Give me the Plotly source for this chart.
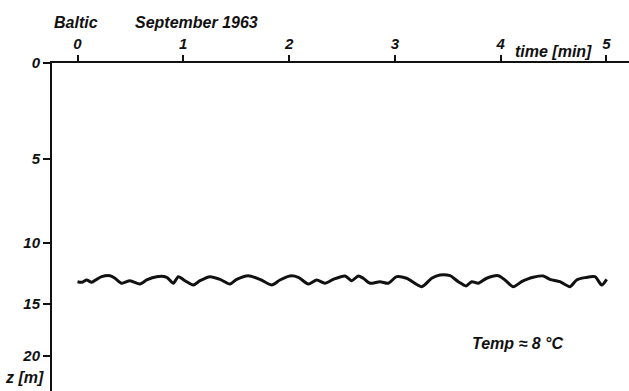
import numpy as np
import plotly.graph_objects as go

# Echo-sounder record, Baltic, September 1963
time_min = [0.00, 0.04, 0.087, 0.134, 0.181, 0.229, 0.307, 0.354, 0.418, 0.496,
            0.591, 0.654, 0.749, 0.843, 0.905, 0.953, 1.016, 1.094, 1.158, 1.252,
            1.347, 1.441, 1.505, 1.614, 1.725, 1.835, 1.914, 2.008, 2.087, 2.181,
            2.261, 2.339, 2.418, 2.528, 2.592, 2.654, 2.701, 2.765, 2.859, 2.938,
            3.017, 3.111, 3.253, 3.348, 3.426, 3.521, 3.599, 3.672, 3.726, 3.788,
            3.868, 3.977, 4.041, 4.119, 4.198, 4.246, 4.308, 4.403, 4.466, 4.560,
            4.655, 4.718, 4.797, 4.891, 4.955, 5.002]
depth_m = [13.17, 13.22, 13.03, 13.22, 12.98, 12.76, 12.68, 12.89, 13.30, 13.09,
           13.36, 13.03, 12.76, 12.81, 13.30, 12.76, 13.09, 13.44, 13.09, 12.76,
           12.98, 13.36, 12.98, 12.68, 12.98, 13.44, 13.03, 12.70, 12.81, 13.36,
           13.03, 13.30, 12.98, 12.70, 13.09, 12.70, 12.89, 13.30, 13.17, 13.30,
           12.76, 12.89, 13.58, 12.89, 12.62, 12.68, 13.17, 13.52, 13.17, 13.30,
           12.89, 12.68, 13.03, 13.58, 13.17, 12.98, 12.81, 12.70, 12.98, 13.17,
           13.58, 13.03, 12.84, 12.76, 13.44, 12.98]

time_ticks = [0, 1, 2, 3, 4, 5]
depth_ticks = [0, 5, 10, 15, 20]
depth_ticktext = ["0", "5", "10", "15", "20"]

# The recorder's depth scale is not linear: tick spacing shrinks with depth.
# Axis units along the scale for each labelled depth.
depth_scale = [0, 96, 180, 241, 293]


def depth_to_axis(d):
    d = np.asarray(d, dtype=float)
    return np.interp(d, depth_ticks, depth_scale)


INK = "#111111"
FONT = dict(family="Liberation Sans", size=16, color=INK,
            weight="bold", style="italic")
TICKFONT = dict(FONT, size=15)

fig = go.Figure()
fig.add_trace(go.Scatter(
    x=time_min,
    y=depth_to_axis(depth_m),
    mode="lines",
    line=dict(color=INK, width=3, shape="spline", smoothing=0.7),
    hoverinfo="skip",
    showlegend=False,
))

fig.update_layout(
    width=629, height=391,
    margin=dict(l=52, r=0, t=63, b=0),
    paper_bgcolor="white",
    plot_bgcolor="white",
    font=FONT,
    xaxis=dict(
        side="top",
        range=[-0.241, 5.213],
        tickvals=time_ticks,
        ticktext=[str(t) for t in time_ticks],
        ticks="outside", ticklen=6, tickwidth=1.5, tickcolor=INK,
        showline=True, linewidth=2, linecolor=INK,
        showgrid=False, zeroline=False,
        tickfont=TICKFONT,
    ),
    yaxis=dict(
        range=[328, 0],
        tickvals=list(depth_to_axis(depth_ticks)),
        ticktext=depth_ticktext,
        ticks="outside", ticklen=7, tickwidth=1.5, tickcolor=INK,
        showline=True, linewidth=2, linecolor=INK,
        showgrid=False, zeroline=False,
        tickfont=TICKFONT,
    ),
    annotations=[
        dict(text="Baltic", xref="paper", yref="paper", x=0.0, y=1.125,
             xanchor="left", yanchor="middle", showarrow=False, font=FONT),
        dict(text="September 1963", xref="x", yref="paper", x=0.52, y=1.125,
             xanchor="left", yanchor="middle", showarrow=False, font=FONT),
        dict(text="time [min]", xref="x", yref="paper", x=4.5, y=1.035,
             xanchor="center", yanchor="middle", showarrow=False, font=FONT),
        dict(text="Temp ≈ 8 °C", xref="x", yref="paper", x=4.16, y=0.146,
             xanchor="center", yanchor="middle", showarrow=False, font=FONT),
        dict(text="z [m]", xref="paper", yref="paper", x=-0.047, y=0.042,
             xanchor="center", yanchor="middle", showarrow=False, font=FONT),
    ],
)

fig.write_html("out.html")
